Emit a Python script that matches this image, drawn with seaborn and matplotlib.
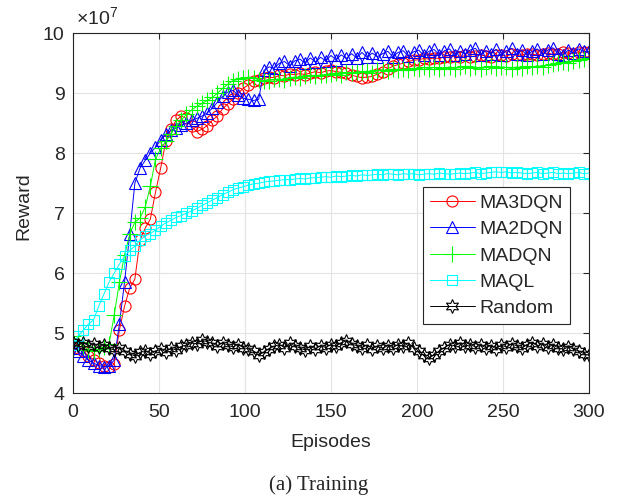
# Training reward curves (MA3DQN / MA2DQN / MADQN / MAQL / Random)

import matplotlib
matplotlib.use("Agg")
import matplotlib.pyplot as plt
import seaborn as sns

# episodes sampled every 3 steps
episodes = list(range(0, 301, 3))

# rewards in units of 1e7
ma3dqn = [4.80, 4.76, 4.70, 4.62, 4.56, 4.50, 4.46, 4.44, 4.48, 5.05,
          5.45, 5.75, 5.90, 6.55, 6.75, 6.90, 7.35, 7.75, 8.20, 8.40,
          8.55, 8.62, 8.58, 8.45, 8.36, 8.40, 8.46, 8.55, 8.62, 8.74,
          8.82, 8.90, 9.00, 9.08, 9.14, 9.20, 9.22, 9.25, 9.27, 9.26,
          9.30, 9.29, 9.32, 9.31, 9.33, 9.31, 9.34, 9.36, 9.34, 9.37,
          9.38, 9.36, 9.35, 9.33, 9.30, 9.28, 9.26, 9.27, 9.28, 9.32,
          9.36, 9.41, 9.45, 9.48, 9.50, 9.53, 9.55, 9.56, 9.58, 9.57,
          9.59, 9.58, 9.61, 9.60, 9.62, 9.60, 9.63, 9.61, 9.62, 9.64,
          9.62, 9.61, 9.63, 9.64, 9.62, 9.65, 9.63, 9.64, 9.66, 9.65,
          9.64, 9.66, 9.67, 9.65, 9.66, 9.68, 9.67, 9.66, 9.68, 9.69,
          9.68]
ma2dqn = [4.75, 4.70, 4.62, 4.55, 4.50, 4.46, 4.44, 4.45, 4.55, 5.15,
          5.85, 6.65, 7.50, 7.75, 7.88, 8.00, 8.10, 8.22, 8.32, 8.38,
          8.42, 8.47, 8.50, 8.55, 8.58, 8.62, 8.67, 8.75, 8.85, 8.95,
          9.02, 9.05, 8.97, 8.92, 8.90, 8.88, 8.90, 9.38, 9.44, 9.42,
          9.50, 9.53, 9.46, 9.54, 9.57, 9.50, 9.59, 9.52, 9.60, 9.54,
          9.63, 9.56, 9.64, 9.58, 9.66, 9.59, 9.68, 9.60, 9.67, 9.61,
          9.66, 9.70, 9.61, 9.68, 9.71, 9.62, 9.69, 9.72, 9.63, 9.70,
          9.73, 9.64, 9.71, 9.74, 9.63, 9.70, 9.66, 9.72, 9.75, 9.64,
          9.71, 9.66, 9.73, 9.63, 9.71, 9.75, 9.65, 9.72, 9.64, 9.70,
          9.74, 9.65, 9.72, 9.76, 9.66, 9.64, 9.72, 9.67, 9.74, 9.70,
          9.70]
madqn = [4.95, 4.85, 4.78, 4.72, 4.70, 4.73, 4.77, 4.82, 5.30, 5.85,
         6.30, 6.65, 6.85, 6.92, 7.10, 7.45, 7.90, 8.08, 8.20, 8.32,
         8.45, 8.55, 8.65, 8.72, 8.78, 8.83, 8.88, 8.93, 9.00, 9.08,
         9.15, 9.21, 9.23, 9.25, 9.27, 9.26, 9.22, 9.20, 9.21, 9.23,
         9.24, 9.22, 9.26, 9.27, 9.25, 9.28, 9.30, 9.28, 9.31, 9.30,
         9.32, 9.34, 9.31, 9.35, 9.33, 9.36, 9.35, 9.37, 9.34, 9.38,
         9.39, 9.37, 9.40, 9.38, 9.41, 9.39, 9.42, 9.40, 9.43, 9.41,
         9.43, 9.40, 9.42, 9.44, 9.41, 9.43, 9.45, 9.42, 9.44, 9.41,
         9.43, 9.45, 9.42, 9.44, 9.43, 9.41, 9.44, 9.42, 9.45, 9.43,
         9.46, 9.44, 9.47, 9.49, 9.50, 9.52, 9.51, 9.54, 9.55, 9.57,
         9.58]
maql = [4.80, 4.95, 5.05, 5.15, 5.22, 5.45, 5.65, 5.85, 6.00, 6.15,
        6.28, 6.38, 6.45, 6.55, 6.62, 6.66, 6.72, 6.78, 6.84, 6.88,
        6.93, 6.96, 7.00, 7.04, 7.08, 7.13, 7.17, 7.22, 7.26, 7.31,
        7.35, 7.39, 7.42, 7.44, 7.47, 7.49, 7.50, 7.52, 7.53, 7.54,
        7.55, 7.56, 7.56, 7.57, 7.58, 7.57, 7.59, 7.59, 7.60, 7.61,
        7.60, 7.62, 7.61, 7.62, 7.63, 7.62, 7.64, 7.63, 7.64, 7.65,
        7.64, 7.66, 7.65, 7.64, 7.66, 7.65, 7.66, 7.64, 7.65, 7.66,
        7.65, 7.67, 7.66, 7.65, 7.66, 7.67, 7.66, 7.67, 7.68, 7.66,
        7.67, 7.68, 7.69, 7.68, 7.69, 7.67, 7.68, 7.67, 7.66, 7.67,
        7.68, 7.66, 7.67, 7.68, 7.66, 7.67, 7.66, 7.67, 7.68, 7.66,
        7.67]
rand = [4.85, 4.80, 4.84, 4.79, 4.82, 4.77, 4.80, 4.75, 4.72, 4.76,
        4.70, 4.66, 4.62, 4.68, 4.71, 4.65, 4.70, 4.73, 4.69, 4.75,
        4.72, 4.78, 4.80, 4.84, 4.82, 4.88, 4.86, 4.83, 4.79, 4.84,
        4.80, 4.77, 4.81, 4.76, 4.74, 4.70, 4.64, 4.68, 4.74, 4.78,
        4.81, 4.76, 4.83, 4.79, 4.75, 4.72, 4.78, 4.74, 4.79, 4.76,
        4.81, 4.78, 4.84, 4.87, 4.82, 4.79, 4.76, 4.80, 4.74, 4.78,
        4.75, 4.79, 4.76, 4.81, 4.78, 4.83, 4.76, 4.70, 4.63, 4.58,
        4.64, 4.70, 4.76, 4.81, 4.79, 4.83, 4.78, 4.81, 4.77, 4.80,
        4.76, 4.79, 4.74, 4.80, 4.77, 4.82, 4.79, 4.75, 4.81, 4.84,
        4.79, 4.82, 4.77, 4.80, 4.76, 4.73, 4.77, 4.74, 4.70, 4.66,
        4.63]

series = [
    ("MA3DQN", ma3dqn, "#ff0000", "o", 8),
    ("MA2DQN", ma2dqn, "#0000ff", "^", 9),
    ("MADQN", madqn, "#00ff00", "+", 11),
    ("MAQL", maql, "#00ffff", "s", 7.5),
    ("Random", rand, "#000000", (6, 1, 0), 10),
]

sns.set_theme(style="whitegrid")
plt.rcParams["font.family"] = ["Liberation Sans", "DejaVu Sans"]
plt.rcParams["mathtext.fontset"] = "custom"
plt.rcParams["mathtext.rm"] = "Liberation Sans"

fig = plt.figure(figsize=(6.18, 4.97), dpi=100)
ax = fig.add_axes([0.118, 0.209, 0.835, 0.724])

for name, vals, col, mk, ms in series:
    sns.lineplot(x=episodes, y=vals, ax=ax, color=col,
                 marker=mk, markersize=ms, markerfacecolor="none",
                 markeredgecolor=col, markeredgewidth=0.8, linewidth=0.7,
                 label=name)

ax.set_xlim(0, 300)
ax.set_ylim(4, 10)
ax.set_xticks([0, 50, 100, 150, 200, 250, 300])
ax.set_yticks([4, 5, 6, 7, 8, 9, 10])

ax.text(0.005, 1.012, r"$\times10^{7}$", transform=ax.transAxes,
        ha="left", va="bottom", fontsize=14, color="#262626")

ax.grid(True, color="#e3e3e3", linewidth=0.8)
for sp in ax.spines.values():
    sp.set_color("#262626")
    sp.set_linewidth(0.8)
ax.tick_params(direction="in", length=4, width=0.8, top=True, right=True,
               labelsize=14, colors="#262626")
ax.tick_params(axis="x", pad=8)
ax.tick_params(axis="y", pad=6)

ax.set_xlabel("Episodes", fontsize=14, color="#262626", labelpad=9)
ax.set_ylabel("Reward", fontsize=14, color="#262626")
ax.yaxis.set_label_coords(-0.078, 0.52)

leg = ax.legend(loc="lower right", bbox_to_anchor=(0.963, 0.192),
                fontsize=14, frameon=True, fancybox=False, framealpha=1,
                edgecolor="#262626", handlelength=2.3, handletextpad=0.25,
                labelspacing=0.45, borderpad=0.35, borderaxespad=0)
leg.get_frame().set_linewidth(0.8)

fig.text(0.516, 1 - 485 / 497, "(a) Training", ha="center", va="center",
         fontsize=15, family="Liberation Serif")

plt.savefig("out.png", dpi=100)
